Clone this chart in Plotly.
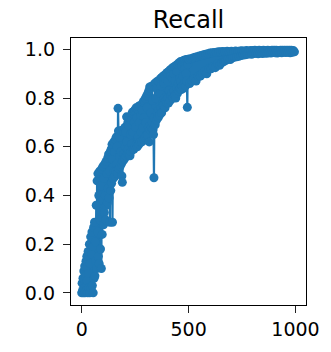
import plotly.graph_objects as go

# sample index: every 2nd step up to 500, every 5th step afterwards
steps = list(range(0, 500, 2)) + list(range(500, 1000, 5))

recall = [
    # 0 - 498 (step 2)
    0.00, 0.04, 0.01, 0.06, 0.00, 0.09, 0.02, 0.11, 0.00, 0.07,
    0.13, 0.01, 0.15, 0.05, 0.00, 0.17, 0.08, 0.02, 0.20, 0.00,
    0.12, 0.23, 0.02, 0.16, 0.25, 0.03, 0.19, 0.00, 0.27, 0.06,
    0.29, 0.07, 0.21, 0.13, 0.36, 0.10, 0.46, 0.25, 0.49, 0.15,
    0.40, 0.12, 0.50, 0.30, 0.18, 0.44, 0.10, 0.51, 0.24, 0.38,
    0.52, 0.28, 0.47, 0.33, 0.53, 0.40, 0.30, 0.54, 0.36, 0.49,
    0.37, 0.555, 0.43, 0.57, 0.39, 0.50, 0.29, 0.58, 0.42, 0.59,
    0.45, 0.61, 0.29, 0.55, 0.47, 0.62, 0.50, 0.58, 0.48, 0.63,
    0.50, 0.64, 0.53, 0.60, 0.49, 0.758, 0.665, 0.51, 0.64, 0.56,
    0.52, 0.666, 0.58, 0.53, 0.48, 0.454, 0.54, 0.67, 0.57, 0.66,
    0.55, 0.68, 0.60, 0.66, 0.56, 0.723, 0.62, 0.57, 0.70, 0.59,
    0.69, 0.57, 0.72, 0.563, 0.65, 0.58, 0.71, 0.61, 0.74, 0.59,
    0.66, 0.745, 0.59, 0.70, 0.75, 0.60, 0.68, 0.76, 0.61, 0.72,
    0.60, 0.755, 0.64, 0.765, 0.61, 0.70, 0.77, 0.62, 0.73, 0.66,
    0.77, 0.62, 0.75, 0.68, 0.785, 0.63, 0.72, 0.79, 0.64, 0.80,
    0.70, 0.645, 0.81, 0.76, 0.65, 0.82, 0.68, 0.83, 0.62, 0.846,
    0.67, 0.84, 0.74, 0.68, 0.85, 0.70, 0.79, 0.67, 0.65, 0.473,
    0.72, 0.86, 0.69, 0.80, 0.865, 0.71, 0.84, 0.74, 0.87, 0.72,
    0.75, 0.87, 0.73, 0.82, 0.88, 0.76, 0.85, 0.74, 0.885, 0.78,
    0.89, 0.77, 0.86, 0.80, 0.895, 0.76, 0.88, 0.79, 0.90, 0.78,
    0.905, 0.80, 0.87, 0.78, 0.91, 0.83, 0.915, 0.79, 0.89, 0.81,
    0.92, 0.82, 0.88, 0.925, 0.80, 0.90, 0.83, 0.93, 0.81, 0.87,
    0.80, 0.935, 0.84, 0.91, 0.82, 0.94, 0.86, 0.83, 0.945, 0.88,
    0.84, 0.95, 0.87, 0.835, 0.93, 0.85, 0.952, 0.89, 0.84, 0.955,
    0.86, 0.92, 0.956, 0.85, 0.90, 0.958, 0.87, 0.762, 0.94, 0.96,
    # 500 - 995 (step 5)
    0.96, 0.86, 0.962, 0.87, 0.965, 0.88, 0.968, 0.87, 0.97, 0.89,
    0.973, 0.89, 0.975, 0.90, 0.978, 0.91, 0.98, 0.90, 0.982, 0.92,
    0.985, 0.92, 0.986, 0.93, 0.987, 0.925, 0.988, 0.94, 0.99, 0.935,
    0.99, 0.945, 0.991, 0.95, 0.99, 0.955, 0.992, 0.96, 0.99, 0.958,
    0.992, 0.965, 0.99, 0.968, 0.993, 0.97, 0.991, 0.972, 0.993, 0.975,
    0.994, 0.977, 0.992, 0.978, 0.995, 0.98, 0.993, 0.982, 0.995, 0.98,
    0.995, 0.983, 0.996, 0.984, 0.994, 0.982, 0.996, 0.985, 0.995, 0.983,
    0.996, 0.985, 0.995, 0.984, 0.997, 0.986, 0.995, 0.985, 0.996, 0.987,
    0.996, 0.986, 0.997, 0.985, 0.995, 0.987, 0.997, 0.986, 0.996, 0.988,
    0.997, 0.987, 0.996, 0.988, 0.997, 0.986, 0.996, 0.988, 0.995, 0.99,
]

x_ticks = [0, 500, 1000]
y_ticks = [0.0, 0.2, 0.4, 0.6, 0.8, 1.0]
title_text = "Recall"

blue = "#1f77b4"
font_family = "DejaVu Sans"

fig = go.Figure()
fig.add_trace(go.Scatter(
    x=steps, y=recall, mode="lines+markers",
    line=dict(color=blue, width=2.2, simplify=False),
    marker=dict(color=blue, size=9),
    showlegend=False,
))

axis_common = dict(
    showgrid=False, zeroline=False,
    showline=True, linecolor="black", linewidth=1.3, mirror=True,
    ticks="outside", ticklen=7, tickwidth=1.3, tickcolor="#222222",
    tickfont=dict(family=font_family, size=19, color="black"),
)

fig.update_layout(
    width=331, height=352,
    margin=dict(l=71, r=17, t=38, b=30),
    paper_bgcolor="white", plot_bgcolor="white",
    title=dict(text=title_text, x=0.5, xref="paper", xanchor="center",
               y=1 - 20 / 352, yref="container", yanchor="middle",
               font=dict(family=font_family, size=24, color="black")),
    xaxis=dict(range=[-49.95, 1048.95], tickvals=x_ticks,
               ticktext=[str(v) for v in x_ticks], **axis_common),
    yaxis=dict(range=[-0.0498, 1.0468], tickvals=y_ticks,
               ticktext=[f"{v:.1f}" for v in y_ticks],
               ticklabelstandoff=4, **axis_common),
)

fig.write_html("out.html")
